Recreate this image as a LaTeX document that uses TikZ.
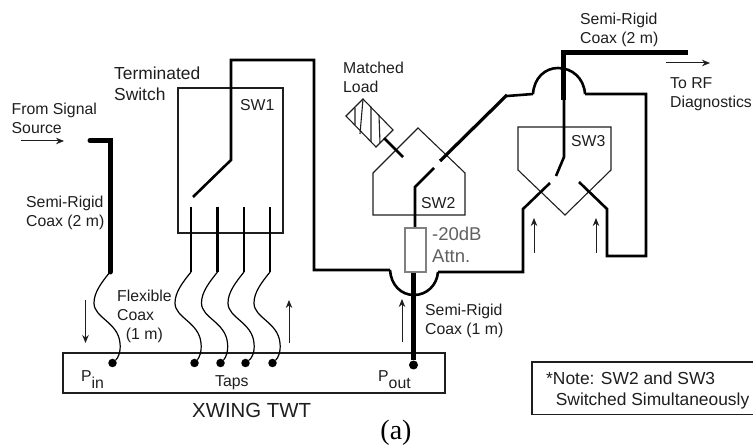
\documentclass[tikz,border=0pt]{standalone}
\usepackage{fontspec}
\usepackage{xcolor}
\setmainfont{Liberation Sans}
\newfontfamily\capfont{Liberation Serif}
\definecolor{inkline}{HTML}{1E1E1E}
\definecolor{attngray}{HTML}{808080}
\usetikzlibrary{arrows.meta}
\tikzset{
  lbl/.style={font=\fontsize{15.8}{19}\selectfont,text=inkline,align=left,inner sep=0pt,anchor=north west},
  boxline/.style={draw=inkline,line width=1.1pt},
  coaxthick/.style={line width=5pt,black},
  coaxmid/.style={line width=2.6pt,black},
  coaxflex/.style={line width=1.2pt,black},
  flow/.style={inkline,line width=1pt,-{Stealth[length=8pt,width=6.5pt]}},
  tapdot/.style={circle,fill=black,inner sep=0pt,minimum size=8.5pt}
}
\newcommand{\flexrun}[1]{(0,0) .. controls (-8,10) and (-16,20) .. (-16,31)
  .. controls (-16,46) and (8,50) .. (10,71) .. controls (11,80) and (8,86) .. (#1)}
\begin{document}
\begin{tikzpicture}[x=1pt,y=-1pt]
    \useasboundingbox (0,0) rectangle (753,446);
    % boxes
    \draw[boxline](178,88) rectangle (283,233);
    \draw[boxline](63,353) rectangle (445,393);
    \draw[boxline](753,362)--(532,362)--(532,414.5)--(753,414.5);
    \draw[boxline](373,173)--(418,128)--(465,173)--(465,215)--(373,215)--cycle;
    \draw[boxline](518,127)--(611,127)--(611,170)--(565,215)--(518,170)--cycle;
    % matched load
    \draw[boxline](346,116)--(363,99)--(393,130)--(376,147)--cycle;
    \draw[boxline](355,108)--(355,125) (363,99)--(360,134) (371,107)--(371,142) (379,115)--(380,143);
    % taps
    \node[tapdot] (dota) at (194.5,363) {};
    \node[tapdot] (dotb) at (220.5,363) {};
    \node[tapdot] (dotc) at (245.5,363) {};
    \node[tapdot] (dotd) at (272.5,363) {};
    \node[tapdot] (dotin) at (112.5,363) {};
    \node[tapdot,minimum size=9pt] (dotout) at (413.5,365) {};
    \foreach \tapx/\tapn in {191/a,217.5/b,244/c,270/d}{
      \coordinate (tap\tapn) at (\tapx,272);
      \draw[coaxmid](\tapx,207)--(tap\tapn);
      \begin{scope}[shift={(tap\tapn)}]
        \draw[coaxflex]\flexrun{dot\tapn};
      \end{scope}
    }
    % input line
    \coordinate (inend) at (110,272);
    \draw[coaxthick,line cap=round,line join=miter](90,140.5)--(110,140.5)--(inend);
    \begin{scope}[shift={(inend)}]
      \draw[coaxflex]\flexrun{dotin};
    \end{scope}
    % SW1 to bridge
    \draw[coaxmid,line join=miter](193,197)--(231,160)--(231,60)--(314,60)--(314,270)--(390,270);
    \draw[coaxmid](390,270)..controls (391,285) and (401,295) .. (414,295)
      .. controls (427,295) and (437,285) .. (438,272);
    \draw[coaxmid,line join=miter](438,272)--(523,272)--(523,209)--(550,183);
    % output line and attenuator
    \draw[line width=5.5pt,black](dotout)--(413.5,273);
    \draw[coaxmid,line join=miter](415,228)--(415,187)--(434,168);
    \draw[attngray,line width=2.6pt,fill=white](405,228) rectangle (426,272);
    % SW2 contacts
    \draw[coaxmid](384,138)--(403,157);
    \draw[line width=3.2pt,black](440,161)--(507,95);
    \draw[coaxmid](507,96)--(533,94);
    \draw[coaxmid](533,94)..controls (534,78) and (545,68) .. (558,68)
      .. controls (572,68) and (584,78) .. (585,94);
    \draw[coaxmid,line join=miter](585,94)--(646,94)--(646,256)--(607,256)--(607,209)--(579,182);
    % diagnostics line
    \draw[coaxthick,line join=miter](688,52.5)--(563.5,52.5)--(563.5,100);
    \draw[coaxmid,line join=miter](564,100)--(564,157)--(556,176);
    % flow arrows
    \draw[flow](21,141)--(64,141);
    \draw[flow](85.5,300)--(85.5,343);
    \draw[flow](289,343)--(289,300);
    \draw[flow](402,342)--(402,299);
    \draw[flow](534,253)--(534,218);
    \draw[flow](596,253)--(596,218);
    \draw[flow](666,63)--(710,63);
    % labels
    \node[lbl] (lblsource) at (11.5,102.5) {From Signal\\Source};
    \node[lbl,font=\fontsize{17.4}{21}\selectfont] (lblswitch) at (114,67) {Terminated\\Switch};
    \node[lbl] (lblrigida) at (26,196) {Semi-Rigid\\Coax (2 m)};
    \node[lbl] (lblflex) at (117,290) {Flexible\\Coax\\\ \ (1 m)};
    \node[lbl] (lblswa) at (240,99) {SW1};
    \node[lbl] (lblload) at (343,61.5) {Matched\\Load};
    \node[lbl] (lblswb) at (421,197) {SW2};
    \node[lbl] (lblswc) at (571,135) {SW3};
    \node[lbl] (lblrigidb) at (580,13) {Semi-Rigid\\Coax (2 m)};
    \node[lbl] (lblrf) at (670,77) {To RF\\Diagnostics};
    \node[lbl,text=attngray!75!black,font=\fontsize{18.5}{21.7}\selectfont] (lblattn) at (432,227) {-20dB\\Attn.};
    \node[lbl] (lblrigidc) at (425,304) {Semi-Rigid\\Coax (1 m)};
    \node[lbl] (lblpin) at (81,370) {P\raisebox{-7pt}{in}};
    \node[lbl] (lbltaps) at (215,375) {Taps};
    \node[lbl] (lblpout) at (378,370) {P\raisebox{-7pt}{out}};
    \node[lbl,font=\fontsize{20.4}{24}\selectfont] (lbltwt) at (192,403) {XWING TWT};
    \node[lbl,font=\fontsize{17.4}{21}\selectfont] (lblnote) at (546,372) {*Note: SW2 and SW3\\\ \ Switched Simultaneously};
    \node[font=\capfont\fontsize{28}{30}\selectfont,inner sep=0pt] (lblcap) at (396,433) {(a)};
  \end{tikzpicture}
\end{document}
